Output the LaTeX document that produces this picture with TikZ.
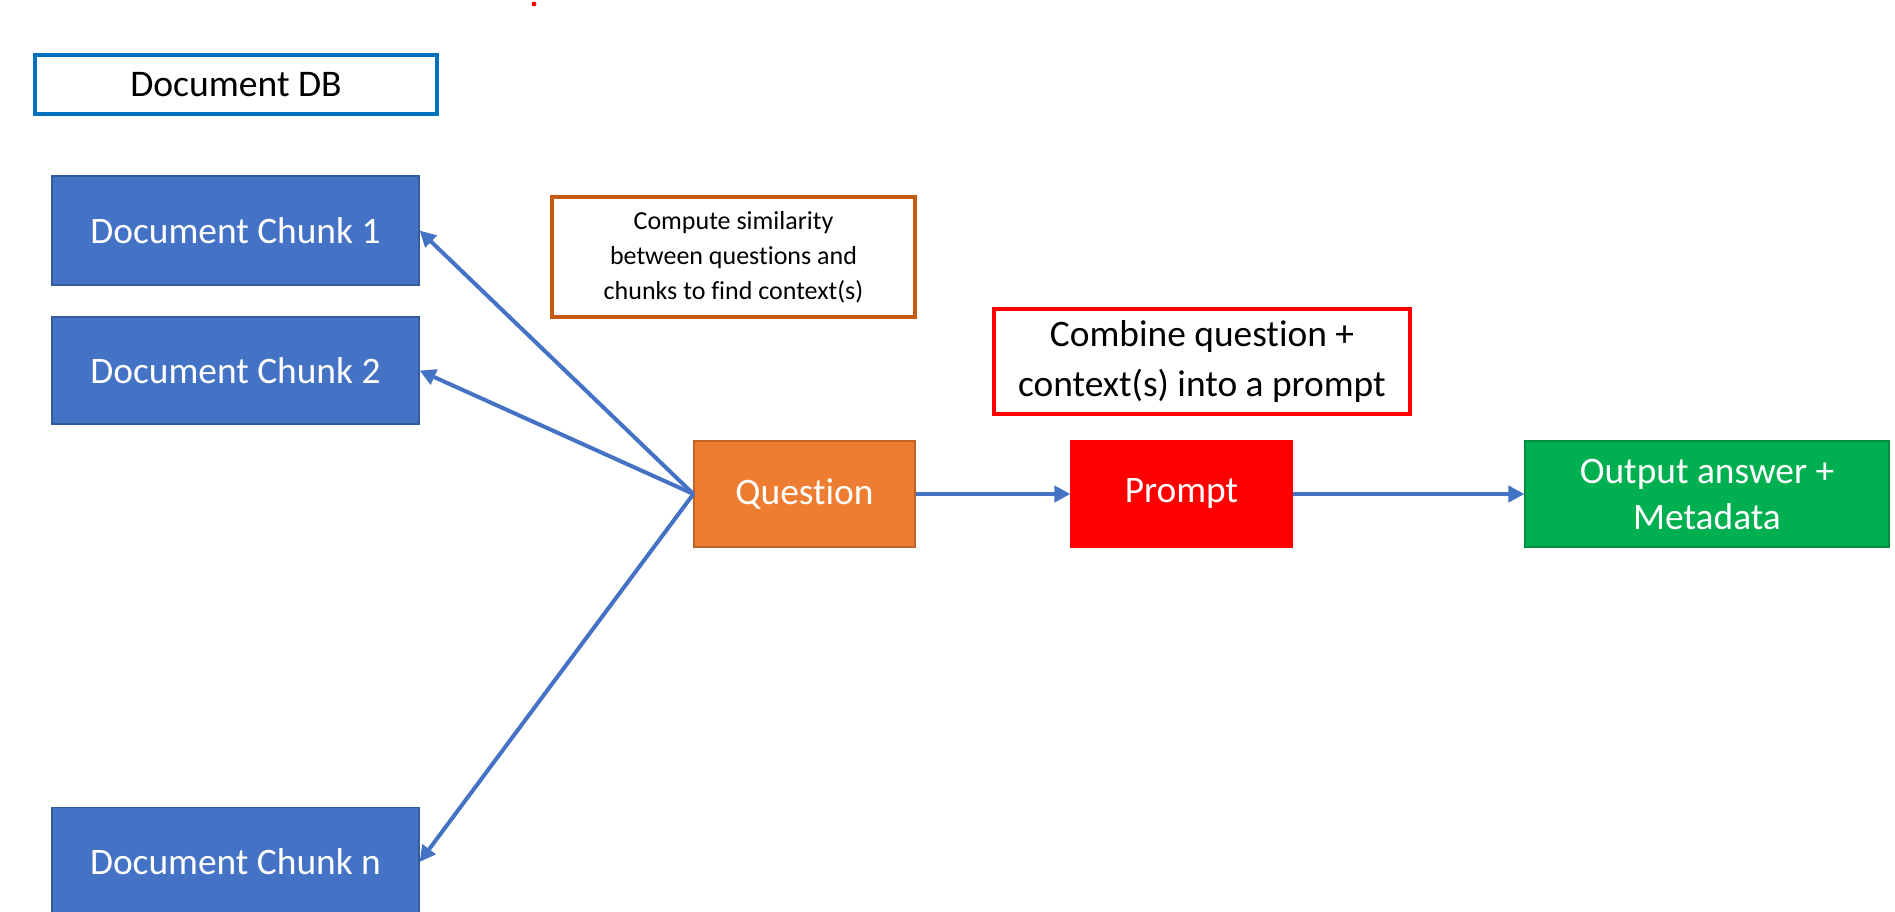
\documentclass[tikz,border=0pt]{standalone}
\usepackage{fontspec}
\setmainfont{Carlito}[Ligatures=NoCommon]
\usetikzlibrary{arrows.meta}
\definecolor{chunkblue}{RGB}{68,114,196}
\definecolor{dbblue}{RGB}{0,112,192}
\definecolor{brownedge}{RGB}{197,90,17}
\definecolor{qorange}{RGB}{237,125,49}
\definecolor{pred}{RGB}{255,0,0}
\definecolor{ogreen}{RGB}{0,176,80}
\tikzset{
  fillbox/.style={draw=#1!80!black, line width=0.6pt, fill=#1, text=white, inner sep=0pt, align=center, font=\fontsize{18.7}{23}\selectfont},
  outlinebox/.style={draw=#1, line width=2pt, fill=white, text=black, inner sep=0pt, align=center},
  conn/.style={draw=chunkblue, line width=2pt, -{Triangle[length=8pt,width=8pt]}}
}
\begin{document}
\begin{tikzpicture}[x=0.5pt,y=-0.5pt]
\useasboundingbox[fill=white] (0,0) rectangle (1895,911);
\fill[pred] (534,4) circle (1.2pt);
\node[outlinebox=dbblue, minimum width=201pt, minimum height=29.5pt, font=\fontsize{18.8}{20}\selectfont] (db) at (236,84.5) {Document DB};
\node[fillbox=chunkblue, minimum width=183.5pt, minimum height=54.5pt] (c1) at (235.5,230.5) {Document Chunk 1};
\node[fillbox=chunkblue, minimum width=183.5pt, minimum height=53.5pt] (c2) at (235.5,370.5) {Document Chunk 2};
\node[fillbox=chunkblue, minimum width=183.5pt, minimum height=54.5pt] (cn) at (235.5,862) {Document Chunk n};
\node[outlinebox=brownedge, minimum width=181.5pt, minimum height=60pt, font=\fontsize{13}{17.5}\selectfont] (sim) at (733.5,257) {Compute similarity\\between questions and\\chunks to find context(s)};
\node[outlinebox=pred, minimum width=208pt, minimum height=52.5pt, font=\fontsize{18.7}{25}\selectfont] (comb) at (1202,361.5) {Combine question +\\context(s) into a prompt};
\node[fillbox=qorange, minimum width=110.5pt, minimum height=53pt] (q) at (804.5,494) {Question};
\node[fillbox=pred, draw=pred, minimum width=110.5pt, minimum height=53pt] (p) at (1181.5,494) {Prompt};
\node[fillbox=ogreen, minimum width=182pt, minimum height=53pt] (o) at (1707,494) {Output answer +\\Metadata};
\draw[conn] (q.west) -- (c1.east);
\draw[conn] (q.west) -- (c2.east);
\draw[conn] (q.west) -- (cn.east);
\draw[conn] (q.east) -- (p.west);
\draw[conn] (p.east) -- (o.west);
\end{tikzpicture}
\end{document}
